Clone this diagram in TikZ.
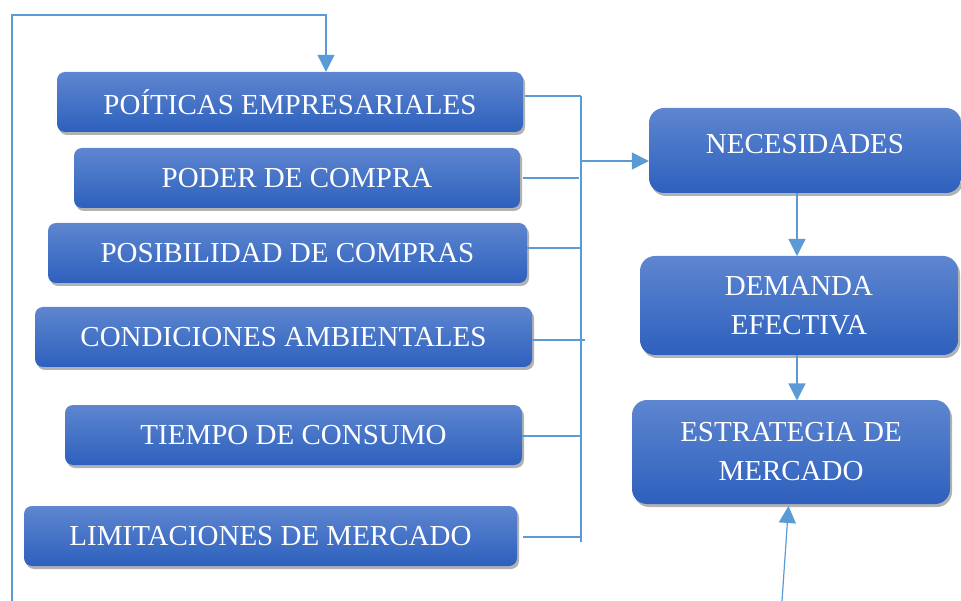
\documentclass[tikz,border=0pt]{standalone}
\usepackage{fontspec}
\setmainfont{Liberation Serif}
\usetikzlibrary{shadows,arrows.meta}
\definecolor{boxtop}{HTML}{5E86D0}
\definecolor{boxbot}{HTML}{2D60BD}
\definecolor{linec}{HTML}{5B9BD5}
\tikzset{
  box/.style={rounded corners=8pt, top color=boxtop, bottom color=boxbot, draw=none,
    text=white, font=\fontsize{29}{39}\selectfont, align=center, inner sep=0pt,
    minimum height=60pt,
    drop shadow={shadow xshift=2pt, shadow yshift=-3pt, opacity=0.3, fill=black}},
  bigbox/.style={box, rounded corners=15pt},
  conn/.style={draw=linec, line width=1.2pt},
  tip/.style={-{Triangle[length=17pt,width=17pt]}},
  arr/.style={conn, tip}
}
\begin{document}
\begin{tikzpicture}[x=1pt,y=-1pt]
\useasboundingbox (0,0) rectangle (961,601);
\node[box, minimum width=466pt] (b1) at (290,102) {POÍTICAS EMPRESARIALES};
\node[box, minimum width=446pt] (b2) at (297,178) {PODER DE COMPRA};
\node[box, minimum width=479pt] (b3) at (287.5,253) {POSIBILIDAD DE COMPRAS};
\node[box, minimum width=497pt] (b4) at (283.5,337) {CONDICIONES AMBIENTALES};
\node[box, minimum width=457pt] (b5) at (293.5,435) {TIEMPO DE CONSUMO};
\node[box, minimum width=493pt] (b6) at (270.5,536) {LIMITACIONES DE MERCADO};
\node[bigbox, minimum width=312pt, minimum height=85pt] (n1) at (805,150.5) {\raisebox{14pt}{NECESIDADES}};
\node[bigbox, minimum width=318pt, minimum height=99pt] (n2) at (799,305.5) {DEMANDA\\EFECTIVA};
\node[bigbox, minimum width=318pt, minimum height=104pt] (n3) at (791,452) {ESTRATEGIA DE\\MERCADO};
% bus
\coordinate (bt) at (581,96);
\coordinate (bb) at (581,542);
\coordinate (bm) at (581,161);
\draw[conn] (bt) -- (bb);
\draw[conn] ([yshift=6pt]b1.east) ++(2,0) -- (bt);
\draw[conn] (b2.east) ++(3,0) -- (579,178);
\draw[conn] ([yshift=5pt]b3.east) -- (581,248);
\draw[conn] ([yshift=-3pt]b4.east) -- (585,340);
\draw[conn] ([yshift=-1pt]b5.east) -- (581,436);
\draw[conn] ([yshift=-1pt]b6.east) ++(6,0) -- (581,537);
\draw[arr] (bm) -- (bm -| n1.west);
\draw[arr] (797,193) -- (797,256);
\draw[arr] (797,355) -- (797,400.5);
% feedback loop
\coordinate (l0) at (12,601);
\coordinate (l1) at (12,15);
\coordinate (l2) at (326,15);
\draw[arr] (l0) -- (l1) -- (l2) -- (l2 |- b1.north);
\coordinate (e0) at (782,601);
\coordinate (e1) at (788.5,506);
\draw[arr] (e0) -- (e1);
\end{tikzpicture}
\end{document}
